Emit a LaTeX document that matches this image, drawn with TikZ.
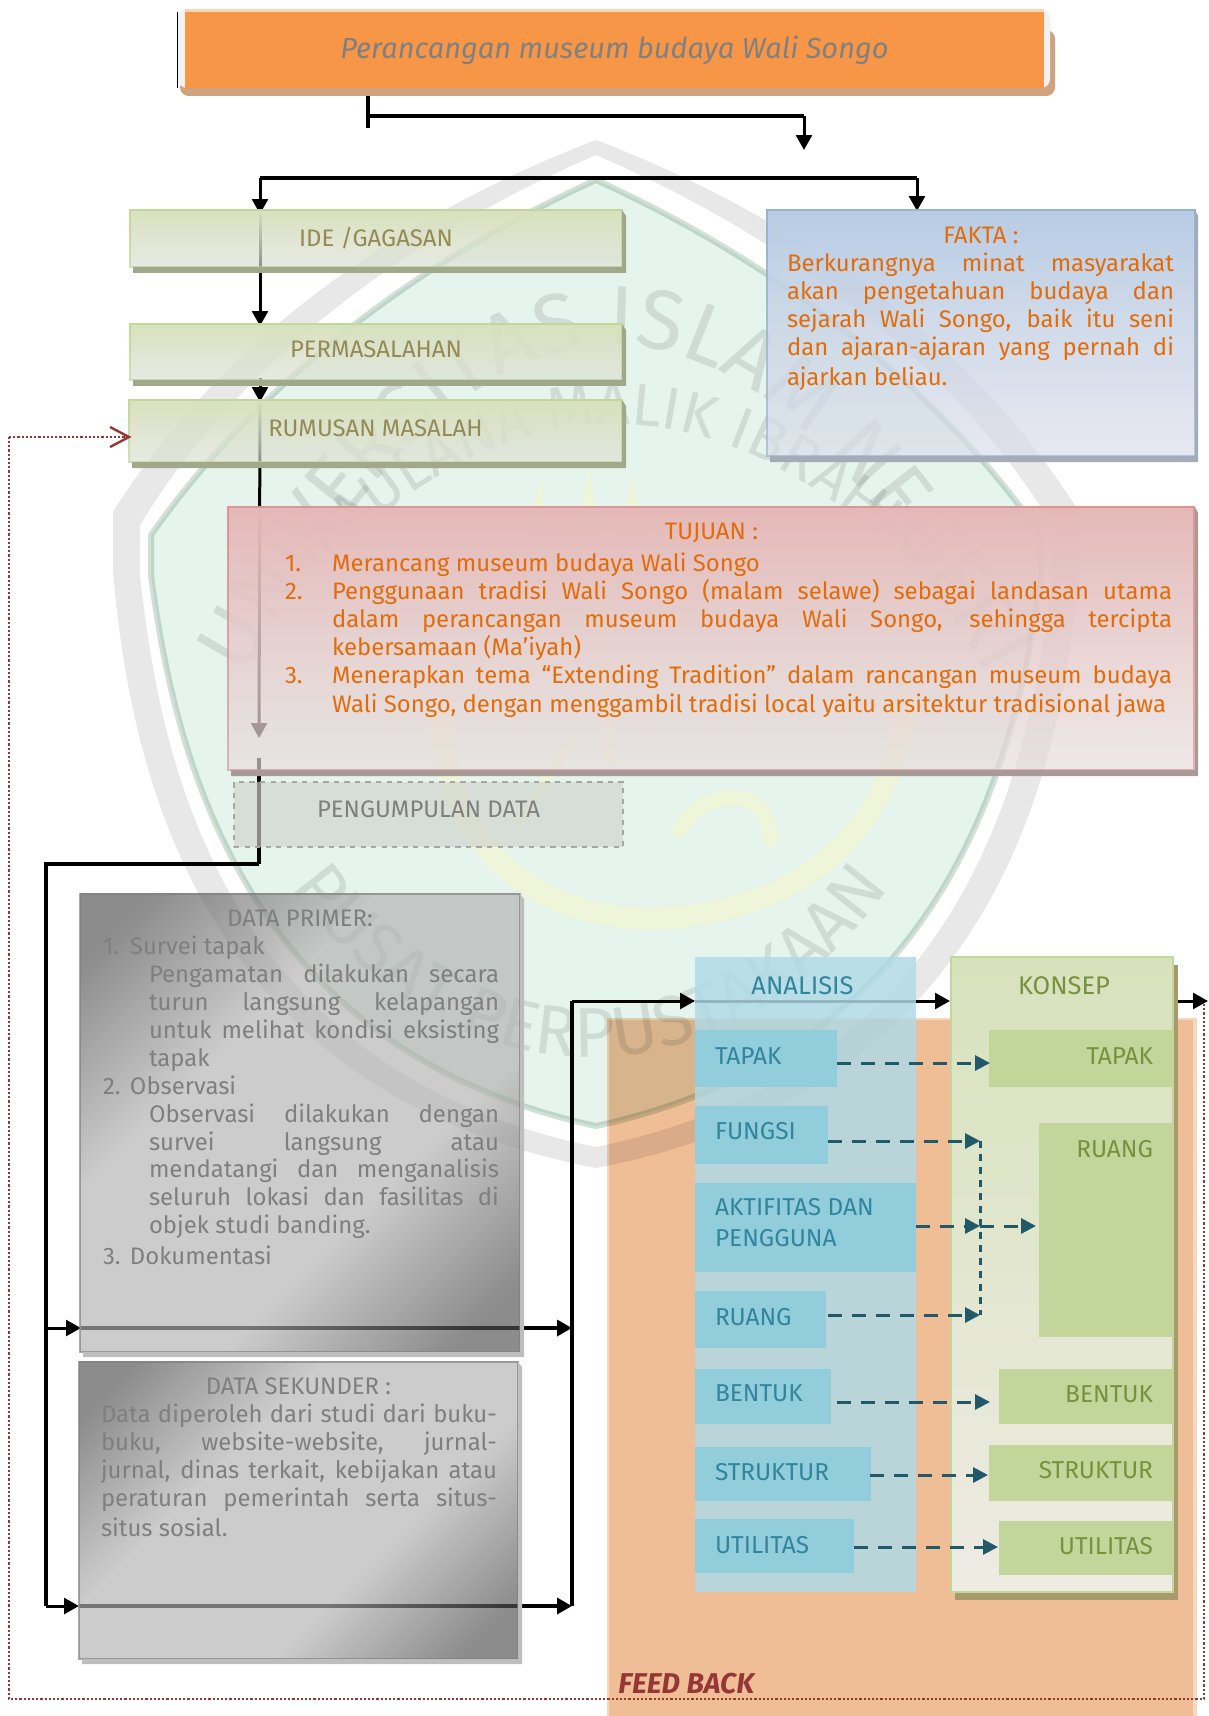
\documentclass[tikz,border=0pt]{standalone}
\usepackage{fontspec}
\setmainfont{Fira Sans}
\usepackage{xcolor}
\usetikzlibrary{arrows.meta,calc,fadings,decorations.text}
\newdimen\pxu
\pxu=0.02cm
\definecolor{judulorange}{HTML}{F79646}
\definecolor{judulpeach}{HTML}{FBD5B5}
\definecolor{judulback}{HTML}{D0A27E}
\definecolor{judulgrey}{HTML}{808080}
\definecolor{greentop}{HTML}{D7E2BC}
\definecolor{greenbot}{HTML}{DDE0D4}
\definecolor{greenline}{HTML}{C3D69B}
\definecolor{greenshade}{HTML}{A2A88A}
\definecolor{olivetext}{HTML}{948A54}
\definecolor{bluetop}{HTML}{B8CCE4}
\definecolor{bluebot}{HTML}{DADDE8}
\definecolor{blueline}{HTML}{95B3D7}
\definecolor{blueshade}{HTML}{A5ACB7}
\definecolor{redtop}{HTML}{E5B8B7}
\definecolor{redbot}{HTML}{E6DCDC}
\definecolor{redline}{HTML}{D99694}
\definecolor{redshade}{HTML}{A99A98}
\definecolor{orangetext}{HTML}{E36C0A}
\definecolor{greyfill}{HTML}{D0D3CC}
\definecolor{greyline}{HTML}{A6A6A6}
\definecolor{greytext}{HTML}{7F7F7F}
\definecolor{darkgrey}{HTML}{515151}
\definecolor{lightgrey}{HTML}{B2B2B2}
\definecolor{greyshade}{HTML}{BEBEBE}
\definecolor{feedfill}{HTML}{EFBD96}
\definecolor{feededge}{HTML}{F7D8BE}
\definecolor{feedtext}{HTML}{953735}
\definecolor{analisispanel}{HTML}{B0DAE6}
\definecolor{analisisbox}{HTML}{92CDDC}
\definecolor{analisistext}{HTML}{31859C}
\definecolor{konsepbox}{HTML}{C2D69B}
\definecolor{konseptext}{HTML}{76923C}
\definecolor{konsepbot}{HTML}{EEEBE3}
\definecolor{konsepshade}{HTML}{A99A6E}
\definecolor{dashblue}{HTML}{215968}
\definecolor{wmgrey}{HTML}{E8E8E8}
\definecolor{wmgreen}{HTML}{E6F4EE}
\definecolor{wmedge}{HTML}{D2E0D8}
\definecolor{wmletter}{HTML}{E6E6E6}
\definecolor{wmyellow}{HTML}{FFF7AF}
\tikzfading[name=fadebox, top color=transparent!0, bottom color=transparent!35]
\tikzfading[name=flatbox, top color=transparent!34, bottom color=transparent!34]
\pgfdeclareverticalshading{databox}{100bp}{color(0bp)=(darkgrey); color(20bp)=(darkgrey); color(38bp)=(lightgrey); color(62bp)=(lightgrey); color(80bp)=(darkgrey); color(100bp)=(darkgrey)}
\tikzstyle{flow}=[-{Triangle[length=8.5pt,width=9pt]},line width=3\pxu]
\tikzstyle{flowthick}=[line width=4.5\pxu]
\tikzstyle{crossflow}=[-{Triangle[length=8.5pt,width=9pt]},line width=4\pxu]
\tikzstyle{dashflow}=[-{Triangle[length=8.5pt,width=8.5pt]},dashed,dash pattern=on 14\pxu off 10\pxu,line width=3\pxu,dashblue]
\tikzstyle{loopline}=[feedtext,line width=2\pxu,dash pattern=on 2.2\pxu off 2\pxu]
\tikzstyle{greenbox}=[draw=greenline,line width=2\pxu,top color=greentop,bottom color=greenbot,path fading=fadebox,text=olivetext]
\tikzstyle{bluebox}=[draw=blueline,line width=2\pxu,top color=bluetop,bottom color=bluebot,path fading=fadebox,text=orangetext]
\tikzstyle{redbox}=[draw=redline,line width=2\pxu,top color=redtop,bottom color=redbot,path fading=fadebox,text=orangetext]
\tikzstyle{greybox}=[draw=greytext,line width=2\pxu,shading=databox,shading angle=45,path fading=flatbox,text=greytext]
\tikzstyle{dashbox}=[draw=greyline,dashed,line width=2\pxu,fill=greyfill,fill opacity=.66,text opacity=1,text=greytext]
\tikzstyle{apanel}=[fill=analisispanel,fill opacity=.84,text opacity=1,text=analisistext]
\tikzstyle{kpanel}=[draw=greenline,line width=2\pxu,top color=greentop,bottom color=konsepbot,text=konseptext]
\tikzstyle{abox}=[fill=analisisbox,text=analisistext,align=left]
\tikzstyle{kbox}=[fill=konsepbox,text=konseptext,align=right]
\newcommand{\bodyfont}{\fontsize{13.6}{15.87}\selectfont}
\newcommand{\boxNode}[7]{
	\pgfmathsetmacro{\boxW}{#5-#3}
	\pgfmathsetmacro{\boxH}{#6-#4}
	\node[#1,anchor=north west,minimum width=\boxW\pxu,minimum height=\boxH\pxu,inner sep=0pt,outer sep=0pt,font=\bodyfont] (#2) at (#3,#4) {#7};
}
\newcommand{\dropShadow}[4]{
	\fill[#1] ($(#2.south west)+(3,0)$) -- ($(#2.south west)+(3,#4)$) -- ($(#2.south east)+(#3,#4)$) -- ($(#2.north east)+(#3,#4)$) -- (#2.north east) -- (#2.south east) -- cycle;
}
\newcommand{\panelText}[7]{\parbox[c][#2\pxu][t]{#1\pxu}{\vspace*{#3\pxu}{\centering #6\par}\leftskip=#4\pxu\rightskip=#5\pxu\parindent=0pt #7}}
\newcommand{\fullPar}{{\parfillskip=0pt\par}}
\newcommand{\leftText}[4]{\parbox[c][#2\pxu][t]{#1\pxu}{\vspace*{#3\pxu}\fontsize{13.9}{15.87}\selectfont\hspace*{20\pxu}#4}}
\newcommand{\rightText}[4]{\parbox[c][#2\pxu][t]{#1\pxu}{\raggedleft\vspace*{#3\pxu}\fontsize{13.9}{15.87}\selectfont #4\hspace*{19\pxu}}}

\begin{document}
\begin{tikzpicture}[x=0.02cm,y=-0.02cm]
	\useasboundingbox (0,0) rectangle (1208,1716);
	\fill[white] (0,0) rectangle (1208,1716);
	% feed back panel
	\fill[feededge] (607,1018) rectangle (1197,1716);
	\node[fill=feedfill,anchor=north west,minimum width=584\pxu,minimum height=696\pxu,inner sep=0pt,outer sep=0pt] (feedback) at (609,1020) {};
	% watermark
	\begin{scope}[blend mode=multiply]
		\fill[wmgrey,even odd rule] (596,140) .. controls (400,215) and (220,340) .. (113,512) -- (113,572) .. controls (130,760) and (190,1090) .. (596,1168) .. controls (1002,1090) and (1062,760) .. (1079,572) -- (1079,512) .. controls (972,340) and (792,215) .. (596,140) -- cycle
			(596,155) .. controls (410,235) and (240,360) .. (140,525) -- (140,575) .. controls (160,760) and (220,1070) .. (596,1147) .. controls (972,1070) and (1032,760) .. (1052,575) -- (1052,525) .. controls (952,360) and (782,235) .. (596,155) -- cycle;
		\draw[wmedge,fill=wmgreen,line width=6\pxu] (596,180) .. controls (420,260) and (260,380) .. (151,535) -- (151,575) .. controls (175,760) and (245,1050) .. (596,1126) .. controls (947,1050) and (1017,760) .. (1041,575) -- (1041,535) .. controls (932,380) and (772,260) .. (596,180) -- cycle;
		\path[decorate,decoration={text along path,text align=center,text={|\color{wmletter}\fontsize{48}{48}\selectfont|UNIVERSITAS ISLAM NEGERI}}] (135,898) .. controls (455,161) and (775,161) .. (1095,898);
		\path[decorate,decoration={text along path,text align=center,text={|\color{wmletter}\fontsize{34}{34}\selectfont|MAULANA MALIK IBRAHIM}}] (216,685) .. controls (483,338) and (749,338) .. (1016,685);
		\path[decorate,decoration={text along path,text align=center,text={|\color{wmletter}\fontsize{40}{40}\selectfont|PUSAT PERPUSTAKAAN}}] (260,840) .. controls (430,1130) and (750,1130) .. (920,840);
	\end{scope}
	\begin{scope}[opacity=.35,wmyellow]
		\draw[line width=22\pxu,line cap=round] (440,720) .. controls (450,900) and (620,960) .. (780,890) .. controls (860,850) and (900,780) .. (905,700);
		\draw[line width=16\pxu,line cap=round] (680,830) .. controls (700,790) and (770,780) .. (770,840);
		\draw[line width=14\pxu,line cap=round] (450,600) .. controls (520,520) and (660,500) .. (740,560);
		\fill (589,463) -- (600,540) -- (578,540) -- cycle;
		\fill (539,480) -- (550,540) -- (528,540) -- cycle;
		\fill (632,473) -- (643,540) -- (621,540) -- cycle;
		\draw[line width=10\pxu,line cap=round] (600,600) -- (610,760);
		\draw[line width=10\pxu,line cap=round] (520,820) .. controls (540,790) and (560,760) .. (570,740);
	\end{scope}
	% connector points
	\coordinate (judulOut) at (368,88);
	\coordinate (judulEnd) at (368,128);
	\coordinate (judulBar) at (368,116);
	\coordinate (judulTurn) at (804,116);
	\coordinate (judulTip) at (804,150);
	\coordinate (splitL) at (260,178);
	\coordinate (splitR) at (917,178);
	\coordinate (ideIn) at (260,214);
	\coordinate (faktaIn) at (917,211);
	\coordinate (masalahIn) at (260,326);
	\coordinate (masalahOut) at (260,378);
	\coordinate (rumusanIn) at (260,402);
	\coordinate (tujuanTip) at (259,738);
	\coordinate (kumpulTop) at (259,758);
	\coordinate (kumpulBot) at (259,864);
	\coordinate (trunkTop) at (46,864);
	\coordinate (trunkMid) at (46,1328);
	\coordinate (trunkBot) at (46,1606);
	\coordinate (primerIn) at (81,1328);
	\coordinate (sekunderIn) at (79,1606);
	\coordinate (busMid) at (572,1328);
	\coordinate (busBot) at (572,1606);
	\coordinate (busTop) at (572,1001);
	\coordinate (analisisIn) at (695,1001);
	\coordinate (konsepIn) at (950,1001);
	\coordinate (konsepOut) at (1173,1001);
	\coordinate (konsepTip) at (1208,1001);
	% arrows under the boxes
	\draw[line width=3.2\pxu] (judulOut) -- (judulEnd);
	\draw[flowthick] (judulBar) -- (judulTurn);
	\draw[flow] (judulTurn) -- (judulTip);
	\draw[flowthick] (splitL) -- (splitR);
	\draw[flow] (splitL) -- (ideIn);
	\draw[flow] (splitR) -- (faktaIn);
	\draw[flow] (ideIn) -- (masalahIn);
	\draw[flow] (masalahOut) -- (rumusanIn);
	\draw[flow] (rumusanIn) -- (tujuanTip);
	\draw[line width=3.2\pxu] (kumpulTop) -- (kumpulBot);
	\draw[flowthick] (kumpulBot) -- (trunkTop) -- (trunkBot);
	\draw[flow] (trunkMid) -- (primerIn);
	\draw[flow] (trunkBot) -- (sekunderIn);
	\draw[crossflow] (primerIn) -- (busMid);
	\draw[crossflow] (sekunderIn) -- (busBot);
	\draw[flowthick] (busBot) -- (busTop);
	\draw[flow] (busTop) -- (analisisIn);
	\draw[flow] (analisisIn) -- (konsepIn);
	\draw[flow] (konsepOut) -- (konsepTip);
	% judul
	\draw[thin] (177.5,12) -- (177.5,88);
	\fill[judulback,rounded corners=5pt] (180,30) rectangle (1055,96);
	\fill[white!95!black,rounded corners=5pt] (178,9) rectangle (1050,88);
	\fill[judulpeach] (185,9) rectangle (1044,12);
	\node[fill=judulorange,anchor=north west,minimum width=859\pxu,minimum height=76\pxu,inner sep=0pt,outer sep=0pt,text=judulgrey,font=\fontsize{16.5}{20}\selectfont\itshape] (judul) at (185,12) {\raisebox{1\pxu}{Perancangan museum budaya Wali Songo}};
	% kiri atas
	\boxNode{greenbox}{ide}{130}{210}{622}{267}{\raisebox{1\pxu}{IDE /GAGASAN}}
	\boxNode{greenbox}{masalah}{130}{324}{622}{380}{\raisebox{5.5\pxu}{PERMASALAHAN}}
	\boxNode{greenbox}{rumusan}{129}{400}{622}{462}{\raisebox{6\pxu}{RUMUSAN MASALAH}}
	\dropShadow{greenshade}{ide}{4}{6}
	\dropShadow{greenshade}{masalah}{4}{6}
	\dropShadow{greenshade}{rumusan}{4}{6}
	\boxNode{bluebox}{fakta}{767}{210}{1195}{456}{\panelText{428}{246}{17.5}{20}{21}{FAKTA :}{Berkurangnya minat masyarakat\linebreak akan pengetahuan budaya dan\linebreak sejarah Wali Songo, baik itu seni\linebreak dan ajaran-ajaran yang pernah di\fullPar\vspace{2\pxu}ajarkan beliau.}}
	\dropShadow{blueshade}{fakta}{3}{6}
	\boxNode{redbox}{tujuan}{228}{507}{1195}{770}{\panelText{967}{263}{16.5}{57}{23}{TUJUAN :}{\vspace{4\pxu}\hangindent=47\pxu\hangafter=1\makebox[47\pxu][l]{1.}Merancang museum budaya Wali Songo\par
		\hangindent=47\pxu\hangafter=1\makebox[47\pxu][l]{2.}Penggunaan tradisi Wali Songo (malam selawe) sebagai landasan utama\linebreak dalam perancangan museum budaya Wali Songo, sehingga tercipta\linebreak kebersamaan (Ma’iyah)\par
		\makebox[47\pxu][l]{3.}Menerapkan tema “Extending Tradition” dalam rancangan museum budaya\fullPar\vspace{1\pxu}\leftskip=104\pxu Wali Songo, dengan menggambil tradisi local yaitu arsitektur tradisional jawa}}
	\dropShadow{redshade}{tujuan}{3}{6}
	\boxNode{dashbox}{kumpul}{234}{782}{623}{847}{\raisebox{11\pxu}{PENGUMPULAN DATA}}
	% data
	\boxNode{greybox}{primer}{80}{894}{520}{1352}{\panelText{440}{458}{16.5}{23}{21}{DATA PRIMER:}{\makebox[27\pxu][l]{1.}Survei tapak\par
		{\leftskip=69\pxu Pengamatan dilakukan secara\linebreak turun langsung kelapangan\linebreak untuk melihat kondisi eksisting\linebreak tapak\par}
		\makebox[27\pxu][l]{2.}Observasi\par
		{\leftskip=69\pxu Observasi dilakukan dengan\linebreak survei langsung atau\linebreak mendatangi dan menganalisis\linebreak seluruh lokasi dan fasilitas di\linebreak objek studi banding.\par}
		\vspace{3\pxu}\makebox[27\pxu][l]{3.}Dokumentasi}}
	\dropShadow{greyshade}{primer}{4}{5}
	\boxNode{greybox}{sekunder}{79}{1362}{518}{1659}{\panelText{439}{297}{16}{22}{21}{DATA SEKUNDER :}{Data diperoleh dari studi dari buku-\linebreak buku, website-website, jurnal-\linebreak jurnal, dinas terkait, kebijakan atau\linebreak peraturan pemerintah serta situs-\fullPar\vspace{2\pxu}situs sosial.}}
	\dropShadow{greyshade}{sekunder}{4}{5}
	% analisis
	\boxNode{apanel}{analisis}{695}{957}{916}{1592}{\parbox[c][635\pxu][t]{221\pxu}{\centering\vspace*{20\pxu}\fontsize{14.5}{17}\selectfont\hspace*{-6\pxu}ANALISIS}}
	\boxNode{abox}{aTapak}{695}{1030}{837}{1087}{\leftText{142}{57}{18}{TAPAK}}
	\boxNode{abox}{aFungsi}{695}{1106}{828}{1164}{\leftText{133}{58}{16}{FUNGSI}}
	\boxNode{abox}{aAktif}{695}{1183}{916}{1272}{\leftText{221}{89}{15}{AKTIFITAS DAN\\[1.7pt]\hspace*{20\pxu}PENGGUNA}}
	\boxNode{abox}{aRuang}{695}{1291}{826}{1348}{\leftText{131}{57}{17}{RUANG}}
	\boxNode{abox}{aBentuk}{695}{1369}{831}{1424}{\leftText{136}{55}{16}{BENTUK}}
	\boxNode{abox}{aStruktur}{695}{1447}{871}{1501}{\leftText{176}{54}{16}{STRUKTUR}}
	\boxNode{abox}{aUtilitas}{695}{1519}{854}{1573}{\leftText{159}{54}{17}{UTILITAS}}
	% konsep
	\fill[konsepshade] (955,1592) rectangle (1178,1600);
	\fill[konsepshade] (1173,965) rectangle (1178,1600);
	\boxNode{kpanel}{konsep}{951}{957}{1173}{1592}{\parbox[c][635\pxu][t]{222\pxu}{\centering\vspace*{20\pxu}\fontsize{14.5}{17}\selectfont\hspace*{4\pxu}KONSEP}}
	\boxNode{kbox}{kTapak}{989}{1030}{1172}{1087}{\rightText{183}{57}{18}{TAPAK}}
	\boxNode{kbox}{kRuang}{1039}{1123}{1172}{1337}{\rightText{133}{214}{17}{RUANG}}
	\boxNode{kbox}{kBentuk}{999}{1369}{1172}{1424}{\rightText{173}{55}{17}{BENTUK}}
	\boxNode{kbox}{kStruktur}{989}{1445}{1172}{1501}{\rightText{183}{56}{16}{STRUKTUR}}
	\boxNode{kbox}{kUtilitas}{999}{1521}{1172}{1575}{\rightText{173}{54}{16}{UTILITAS}}
	% dashed arrows
	\coordinate (dTapakA) at (837,1063);
	\coordinate (dTapakB) at (990,1063);
	\coordinate (dFungsiA) at (828,1141);
	\coordinate (dJoinTop) at (980,1141);
	\coordinate (dAktifA) at (916,1226);
	\coordinate (dJoinMid) at (980,1226);
	\coordinate (dAktifB) at (1036,1226);
	\coordinate (dRuangA) at (828,1315);
	\coordinate (dJoinBot) at (980,1315);
	\coordinate (dBentukA) at (837,1402);
	\coordinate (dBentukB) at (990,1402);
	\coordinate (dStrukA) at (870,1475);
	\coordinate (dStrukB) at (988,1475);
	\coordinate (dUtilA) at (854,1547);
	\coordinate (dUtilB) at (998,1547);
	\draw[dashflow] (dTapakA) -- (dTapakB);
	\draw[dashflow] (dFungsiA) -- (dJoinTop);
	\draw[dashflow] (dAktifA) -- (dJoinMid);
	\draw[dashflow] (dJoinMid) -- (dAktifB);
	\draw[dashflow] (dRuangA) -- (dJoinBot);
	\draw[dashed,dash pattern=on 7\pxu off 6\pxu,line width=3\pxu,dashblue] (dJoinTop) -- (dJoinBot);
	\draw[dashflow] (dBentukA) -- (dBentukB);
	\draw[dashflow] (dStrukA) -- (dStrukB);
	\draw[dashflow] (dUtilA) -- (dUtilB);
	% feed back
	\node[text=feedtext,font=\fontsize{16.3}{18}\selectfont\bfseries\itshape,anchor=west,inner sep=0pt] (feedLabel) at (618,1684) {FEED BACK};
	\coordinate (loopA) at (1204,1004);
	\coordinate (loopB) at (1204,1699);
	\coordinate (loopC) at (9,1699);
	\coordinate (loopD) at (9,437);
	\coordinate (loopTip) at (129,437);
	\draw[loopline] (loopA) -- (loopB) -- (loopC) -- (loopD);
	\draw[loopline,line width=2.6\pxu] (loopD) -- ($(loopTip)+(-3,0)$);
	\draw[feedtext,line width=2.4\pxu] ($(loopTip)+(-19,-10)$) -- (loopTip) -- ($(loopTip)+(-19,10)$);
\end{tikzpicture}
\end{document}
